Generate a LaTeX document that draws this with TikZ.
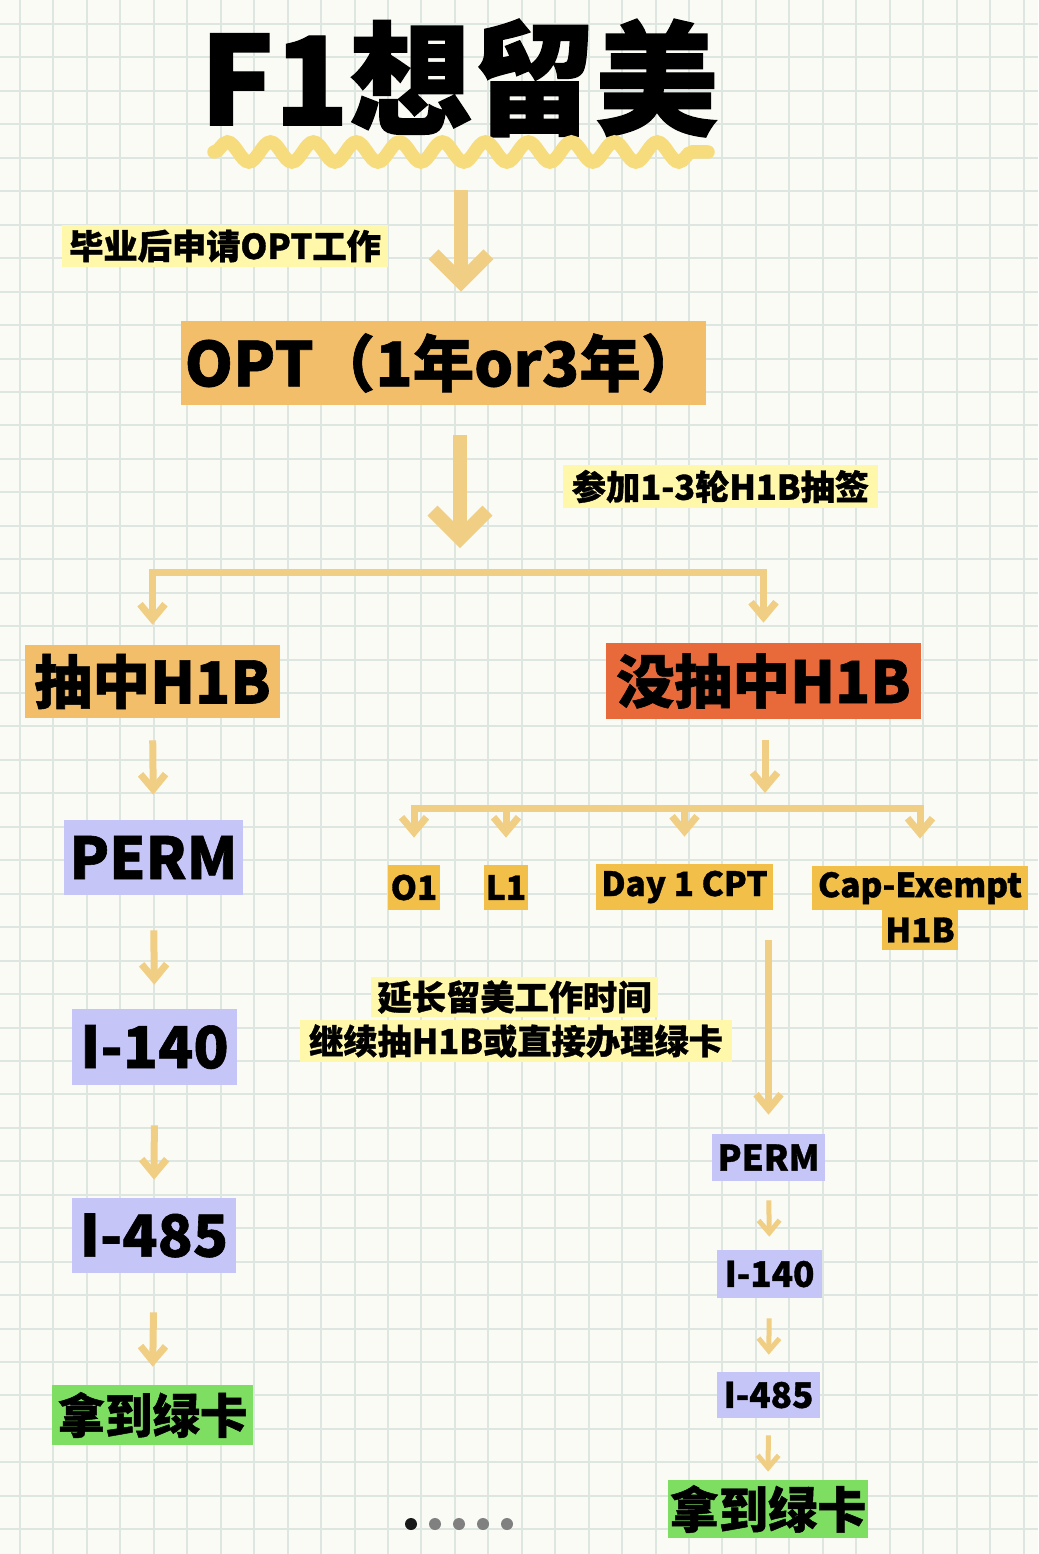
\documentclass[tikz,border=0pt]{standalone}
\usepackage{fontspec}
\usetikzlibrary{arrows.meta,decorations.pathmorphing}
\newfontfamily\cjk{Noto Sans CJK SC}[FakeBold=1]
\newcommand\sz[1]{\fontsize{#1}{#1}\selectfont}
\definecolor{paper}{RGB}{251,251,246}
\definecolor{gridc}{RGB}{221,230,225}
\definecolor{arrowc}{RGB}{240,206,132}
\definecolor{wavec}{RGB}{247,220,126}
\definecolor{orangec}{RGB}{243,190,106}
\definecolor{notec}{RGB}{255,248,170}
\definecolor{redc}{RGB}{232,106,58}
\definecolor{goldc}{RGB}{242,192,72}
\definecolor{purplec}{RGB}{198,197,247}
\definecolor{greenc}{RGB}{126,222,98}
\begin{document}
\begin{tikzpicture}[
    x=0.02cm, y=-0.02cm,
    box/.style={
      inner sep=0pt, anchor=center, text=black, font=\cjk\bfseries
    },
    stage/.style={box, fill=orangec},
    missed/.style={box, fill=redc},
    route/.style={box, fill=goldc},
    step2/.style={box, fill=purplec},
    done/.style={box, fill=greenc},
    note/.style={box, fill=notec},
    bigflow/.style={draw=arrowc, line width=0.28cm,
      -{Straight Barb[length=0.55cm, width=1.1cm]}},
    flow/.style={draw=arrowc, line width=0.14cm,
      -{Straight Barb[length=0.3cm, width=0.5cm]}},
    minflow/.style={draw=arrowc, line width=0.1cm,
      -{Straight Barb[length=0.25cm, width=0.42cm]}},
  ]
  \useasboundingbox (0,0) rectangle (1038,1554);
  \fill[paper] (0,0) rectangle (1038,1554);

  % Grid paper
  \foreach \i in {0,...,30}
    \draw[gridc, line width=0.04cm] ({20+33.45*\i},0) -- ({20+33.45*\i},1554);
  \foreach \j in {0,...,45}
    \draw[gridc, line width=0.04cm] (0,{24+33.45*\j}) -- (1038,{24+33.45*\j});

  % Title
  \node[box, font=\cjk\bfseries\sz{70}] (title) at (459,78) {F1想留美};
  \draw[wavec, line width=0.27cm, line cap=round, decorate,
    decoration={snake, segment length=0.86cm, amplitude=0.2cm}]
    (214,152) -- (708,152);
  \coordinate (wave) at (461,152);

  % OPT
  \node[note, minimum width=6.52cm, minimum height=0.84cm, font=\cjk\bfseries\sz{19.5}] (grad) at (225,246) {毕业后申请OPT工作};
  \node[stage, minimum width=10.5cm, minimum height=1.68cm, font=\cjk\bfseries\sz{35}] (opt) at (443.5,363) {OPT（1年or3年）};
  \node[note, minimum width=6.3cm, minimum height=0.86cm, font=\cjk\bfseries\sz{19.5}] (draw) at (720.5,486.5) {参加1-3轮H1B抽签};
  \coordinate (split) at (460,572);

  % Lottery result
  \node[stage, minimum width=5.1cm, minimum height=1.46cm, font=\cjk\bfseries\sz{33}] (hit) at (152.5,681.5) {抽中H1B};
  \node[missed, minimum width=6.3cm, minimum height=1.52cm, font=\cjk\bfseries\sz{33}] (miss) at (763.5,681) {没抽中H1B};

  % Left column
  \node[step2, minimum width=3.58cm, minimum height=1.5cm, font=\cjk\bfseries\sz{33}] (perma) at (153.5,857.5) {PERM};
  \node[step2, minimum width=3.3cm, minimum height=1.52cm, font=\cjk\bfseries\sz{33}] (i140a) at (154.5,1047) {I-140};
  \node[step2, minimum width=3.28cm, minimum height=1.5cm, font=\cjk\bfseries\sz{33}] (i485a) at (154,1235.5) {I-485};
  \node[done, minimum width=4.02cm, minimum height=1.2cm, font=\cjk\bfseries\sz{27}] (carda) at (152.5,1415) {拿到绿卡};

  % Right column
  \coordinate (splitb) at (765,808);
  \node[route, minimum width=1.04cm, minimum height=0.9cm, font=\cjk\bfseries\sz{19}] (o1) at (414,887.5) {O1};
  \node[route, minimum width=0.88cm, minimum height=0.9cm, font=\cjk\bfseries\sz{19}] (l1) at (506,887.5) {L1};
  \node[route, minimum width=3.54cm, minimum height=0.92cm, font=\cjk\bfseries\sz{19}] (cpt) at (684.5,887) {Day 1 CPT};
  \node[route, minimum width=4.32cm, minimum height=0.88cm, font=\cjk\bfseries\sz{19}] (capa) at (920,888) {Cap-Exempt};
  \node[route, minimum width=1.52cm, minimum height=0.8cm, font=\cjk\bfseries\sz{19}] (capb) at (920,930) {H1B};
  \node[note, minimum width=5.74cm, minimum height=0.8cm, font=\cjk\bfseries\sz{19.5}] (extenda) at (514.5,997) {延长留美工作时间};
  \node[note, minimum width=8.64cm, minimum height=0.84cm, font=\cjk\bfseries\sz{19.5}] (extendb) at (516,1041) {继续抽H1B或直接办理绿卡};
  \node[step2, minimum width=2.26cm, minimum height=0.94cm, font=\cjk\bfseries\sz{20}] (permb) at (768.5,1157.5) {PERM};
  \node[step2, minimum width=2.1cm, minimum height=0.96cm, font=\cjk\bfseries\sz{20}] (i140b) at (769.5,1274) {I-140};
  \node[step2, minimum width=2.06cm, minimum height=0.92cm, font=\cjk\bfseries\sz{20}] (i485b) at (768.5,1395) {I-485};
  \node[done, minimum width=4cm, minimum height=1.16cm, font=\cjk\bfseries\sz{28}] (cardb) at (768,1509) {拿到绿卡};

  % Arrows down the middle
  \draw[bigflow, shorten <=0.76cm, shorten >=0.58cm] (wave) -- (wave |- opt.north);
  \draw[bigflow, shorten <=0.6cm, shorten >=0.48cm] (opt.south -| split) -- (split);
  \draw[flow, shorten >=0.4cm] (split) -| (hit.north);
  \draw[flow, shorten >=0.4cm] (split) -| (miss.north);

  % Arrows on the left
  \draw[flow, shorten <=0.44cm, shorten >=0.5cm] (hit.south) -- (perma.north);
  \draw[flow, shorten <=0.7cm, shorten >=0.48cm] (perma.south) -- (i140a.north);
  \draw[flow, shorten <=0.8cm, shorten >=0.36cm] (i140a.south) -- (i485a.north);
  \draw[flow, shorten <=0.78cm, shorten >=0.36cm] (i485a.south) -- (carda.north);

  % Arrows on the right
  \draw[flow, shorten <=0.42cm, shorten >=0.3cm] (miss.south -| splitb) -- (splitb);
  \draw[flow, shorten >=0.54cm] (splitb) -| (o1.north);
  \draw[flow, shorten >=0.54cm] (splitb) -| (l1.north);
  \draw[flow, shorten >=0.54cm] (splitb) -| (cpt.north);
  \draw[flow, shorten >=0.54cm] (splitb) -| (capa.north);
  \draw[flow, shorten <=0.6cm, shorten >=0.38cm] (permb.north |- cpt.south) -- (permb.north);
  \draw[minflow, shorten <=0.38cm, shorten >=0.26cm] (permb.south) -- (i140b.north);
  \draw[minflow, shorten <=0.4cm, shorten >=0.34cm] (i140b.south) -- (i485b.north);
  \draw[minflow, shorten <=0.34cm, shorten >=0.16cm] (i485b.south) -- (cardb.north);

  % Page dots
  \fill[black!90] (411,1524) circle (0.12cm);
  \foreach \x in {435,459,483,507}
    \fill[black!50] (\x,1524) circle (0.12cm);
\end{tikzpicture}
\end{document}
